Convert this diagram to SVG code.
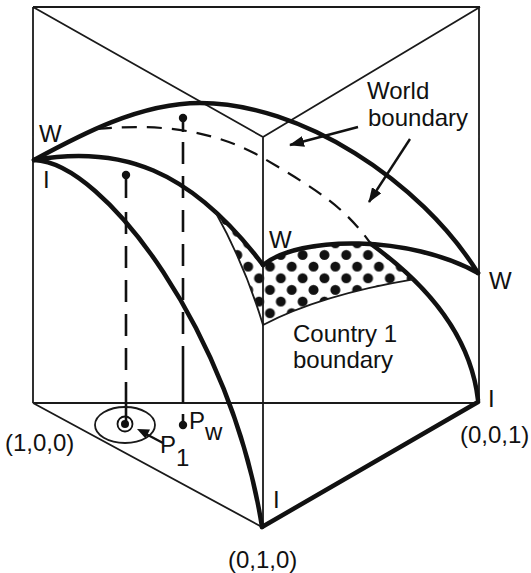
<svg xmlns="http://www.w3.org/2000/svg" width="531" height="573" viewBox="0 0 531 573">
<style>
.thin{fill:none;stroke:#1a1a1a;stroke-width:1.8}
.thick{fill:none;stroke:#111;stroke-width:4.5;stroke-linecap:round}
.dash{fill:none;stroke:#111;stroke-width:2.2;stroke-dasharray:15 10}
.vdash{fill:none;stroke:#111;stroke-width:2.6;stroke-dasharray:22 12}
.stick{fill:none;stroke:#111;stroke-width:2.6}
.arr{fill:none;stroke:#111;stroke-width:2.4;marker-end:url(#ah)}
text{font-family:"Liberation Sans",Arial,Helvetica,sans-serif;font-size:24px;fill:#111}
</style>
<defs>
<pattern id="dots" patternUnits="userSpaceOnUse" x="264.5" y="260.9" width="21.8" height="23.3">
<circle cx="5.45" cy="5.8" r="5" fill="#111"/>
<circle cx="16.35" cy="17.45" r="5" fill="#111"/>
</pattern>
<marker id="ah" viewBox="0 0 15 11" refX="14" refY="5.5" markerWidth="15" markerHeight="11" markerUnits="userSpaceOnUse" orient="auto"><path d="M0,0 L15,5.5 L0,11 Z" fill="#111"/></marker>
</defs>
<rect width="531" height="573" fill="#fff"/>

<g id="region">
<path d="M215,211.3 C231,225.9 246.9,243.7 263,265 C283.35,248.5 325.8,241.1 371.2,244.1 C385.1,254.2 399.65,266 413.3,279.4 Q320,295 263,325 Q245,265 215,211.3 Z" fill="url(#dots)" stroke="none"/>
</g>

<g id="frame">
<path class="thin" d="M33,7 L480,7 M33,7 L33,403 M479,7 L479,402 M33,7 L263,137 M480,7 L263,137 M263,137 L263,527 M33,403 L478,403 M33,403 L262,527"/>
<path class="thick" d="M262,527 L478,402" stroke-width="5"/>
</g>

<g id="connectors">
<path class="dash" d="M97,129 C140,125 205,124 263,158 S345,208 371,244"/>
<path class="thick" d="M34,160 C80,135 140,103 200,103 C300,103 420,180 478,273"/>
<path class="thick" d="M34,160 C120,145 190,168 263,265"/>
<path class="thick" d="M34,160 C105,162 232,335 262,527"/>
<path class="thick" d="M263,265 C300,235 410,235 478,273"/>
<path class="thick" d="M371,244 C418,278 470,330 478,400"/>
<path class="thin" d="M215,211.3 Q245,265 263,325 Q320,295 413.3,279.4"/>
<line class="arr" x1="358" y1="127" x2="290" y2="145"/>
<line class="arr" x1="410" y1="139" x2="369" y2="202"/>
</g>

<g id="projections">
<circle cx="126" cy="175" r="4.2" fill="#111"/>
<line class="stick" x1="126" y1="175" x2="126" y2="198"/>
<line class="vdash" x1="126" y1="212" x2="126" y2="395"/>
<line class="stick" x1="126" y1="395" x2="126" y2="424"/>
<circle cx="183" cy="118" r="4.2" fill="#111"/>
<line class="stick" x1="183" y1="118" x2="183" y2="132"/>
<line class="vdash" x1="183" y1="142" x2="183" y2="365"/>
<line class="stick" x1="183" y1="365" x2="183" y2="403"/>
</g>

<g id="P1">
<ellipse cx="125" cy="425" rx="30" ry="18" class="thin"/>
<circle cx="125" cy="424" r="7.5" fill="none" stroke="#111" stroke-width="1.8"/>
<circle cx="125" cy="424" r="4" fill="#111"/>
<line x1="163" y1="443" x2="146" y2="434" stroke="#111" stroke-width="2.4"/>
<path d="M137,429 L150,429.5 L145.5,438.5 Z" fill="#111"/>
<text x="160" y="453">P</text>
<text x="176" y="466" font-size="20">1</text>
</g>

<g id="Pw">
<line class="stick" x1="183" y1="414" x2="183" y2="424"/>
<circle cx="183" cy="425" r="4.2" fill="#111"/>
<text x="189" y="429">P</text>
<text x="205" y="440" font-size="20">w</text>
</g>

<g id="labels">
<text x="39" y="142">W</text>
<text x="43" y="188">I</text>
<text x="269" y="248">W</text>
<text x="489" y="289">W</text>
<text x="367" y="99">World</text>
<text x="368" y="126">boundary</text>
<text x="293" y="342">Country 1</text>
<text x="293" y="368">boundary</text>
<text x="488" y="407">I</text>
<text x="460" y="443">(0,0,1)</text>
<text x="273" y="508">I</text>
<text x="228" y="568">(0,1,0)</text>
<text x="5" y="451">(1,0,0)</text>
</g>
</svg>
